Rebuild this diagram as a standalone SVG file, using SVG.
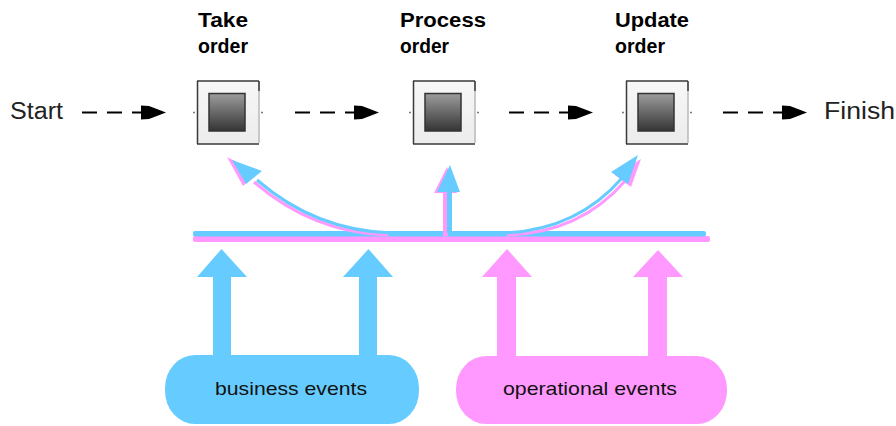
<svg xmlns="http://www.w3.org/2000/svg" xmlns:xlink="http://www.w3.org/1999/xlink" width="896" height="426" viewBox="0 0 896 426">
<style>
.title{font-family:"Liberation Sans",Arial,sans-serif;font-weight:bold;font-size:20px;fill:#000}
.term{font-family:"Liberation Sans",Arial,sans-serif;font-size:23px;fill:#222}
.lbl{font-family:"Liberation Sans",Arial,sans-serif;font-size:19px;fill:#111}
.blue{fill:#66CCFF}
.pink{fill:#FF99FF}
.bstroke{fill:none;stroke:#66CCFF;stroke-width:3}
.pstroke{fill:none;stroke:#FF99FF;stroke-width:3}
.outer{fill:url(#outerG)}
.edge{stroke:#3a3a3a;stroke-width:1.5;fill:none}
.edgeL{stroke:#b8b8b8;stroke-width:1.5;fill:none}
.inner{fill:url(#innerG);stroke:#333;stroke-width:1.5}
.dot{stroke:#777;stroke-width:1.5}
</style>
<defs>
<linearGradient id="outerG" x1="0" y1="0" x2="0" y2="1">
<stop offset="0" stop-color="#f7f7f7"/>
<stop offset="1" stop-color="#ececec"/>
</linearGradient>
<linearGradient id="innerG" x1="0" y1="0" x2="0" y2="1">
<stop offset="0" stop-color="#9c9c9c"/>
<stop offset="1" stop-color="#353535"/>
</linearGradient>
<g id="dash">
<line x1="0" y1="112.5" x2="60" y2="112.5" stroke="#000" stroke-width="2" stroke-dasharray="15 10"/>
<polygon points="59,105.5 67,106 84,112.5 67,119 59,119.5" fill="#000"/>
</g>
<g id="box">
<rect x="0" y="0" width="62" height="63" class="outer"/>
<path d="M0,0 H62 M0.5,0 V63 M0,63 H62" class="edge"/>
<path d="M62,1 V62" class="edgeL"/>
<path d="M62,0 V10" class="edge"/>
<rect x="12" y="12.5" width="36" height="37.5" class="inner"/>
<line x1="-4" y1="31.5" x2="-2" y2="31.5" class="dot"/>
<line x1="64" y1="31.5" x2="66" y2="31.5" class="dot"/>
</g>
</defs>

<g id="start"><text class="term" x="10" y="119" textLength="53" lengthAdjust="spacingAndGlyphs">Start</text></g>
<g id="finish"><text class="term" x="824" y="119" textLength="71" lengthAdjust="spacingAndGlyphs">Finish</text></g>

<g id="take-order">
<text class="title" x="198" y="27" textLength="50" lengthAdjust="spacingAndGlyphs">Take</text>
<text class="title" x="198" y="53" textLength="50" lengthAdjust="spacingAndGlyphs">order</text>
<use xlink:href="#box" x="197" y="81"/>
</g>
<g id="process-order">
<text class="title" x="400" y="27" textLength="86" lengthAdjust="spacingAndGlyphs">Process</text>
<text class="title" x="400" y="53" textLength="49" lengthAdjust="spacingAndGlyphs">order</text>
<use xlink:href="#box" x="413" y="81"/>
</g>
<g id="update-order">
<text class="title" x="615" y="27" textLength="74" lengthAdjust="spacingAndGlyphs">Update</text>
<text class="title" x="615" y="53" textLength="50" lengthAdjust="spacingAndGlyphs">order</text>
<use xlink:href="#box" x="626" y="81"/>
</g>

<g id="event-bus">
<rect x="193" y="236" width="517" height="6" rx="2" class="pink"/>
<rect x="193" y="231" width="513" height="5.5" rx="2" class="blue"/>
</g>

<g id="business-events">
<polygon class="blue" points="221.5,249 247,277 231,277 231,362 213,362 213,277 197,277"/>
<polygon class="blue" points="368.5,249 393,277 377,277 377,362 359,362 359,277 343,277"/>
<rect x="165" y="355" width="254" height="69" rx="30" ry="33" class="blue"/>
<text class="lbl" x="215" y="395" textLength="152" lengthAdjust="spacingAndGlyphs">business events</text>
</g>

<g id="operational-events">
<polygon class="pink" points="507,249 532,277 516,277 516,362 497,362 497,277 482,277"/>
<polygon class="pink" points="658,250 683,277 667,277 667,362 648,362 648,277 633,277"/>
<rect x="456" y="356" width="271" height="68" rx="30" ry="33" class="pink"/>
<text class="lbl" x="503" y="395" textLength="174" lengthAdjust="spacingAndGlyphs">operational events</text>
</g>

<g id="connectors">
<use xlink:href="#dash" x="82"/>
<use xlink:href="#dash" x="295"/>
<use xlink:href="#dash" x="509"/>
<use xlink:href="#dash" x="723"/>

<path class="pstroke" d="M388,235 Q313,233 254,182"/>
<polygon class="pink" points="227,157 258,173 243,186"/>
<path class="bstroke" d="M392,233 Q316,231 257,180"/>
<polygon class="blue" points="232,160 262,171 246,184"/>

<rect x="443" y="190" width="5" height="46" class="pink"/>
<polygon class="pink" points="447,167 457,193 434,193"/>
<rect x="447" y="190" width="5" height="43" class="blue"/>
<polygon class="blue" points="450,165 460,192 437,192"/>

<path class="pstroke" d="M507,235 Q580,233 625,181"/>
<polygon class="pink" points="641,159 615,175 631,187"/>
<path class="bstroke" d="M504,233 Q577,230 622,178"/>
<polygon class="blue" points="638,155 611,172 628,184"/>
</g>
</svg>
